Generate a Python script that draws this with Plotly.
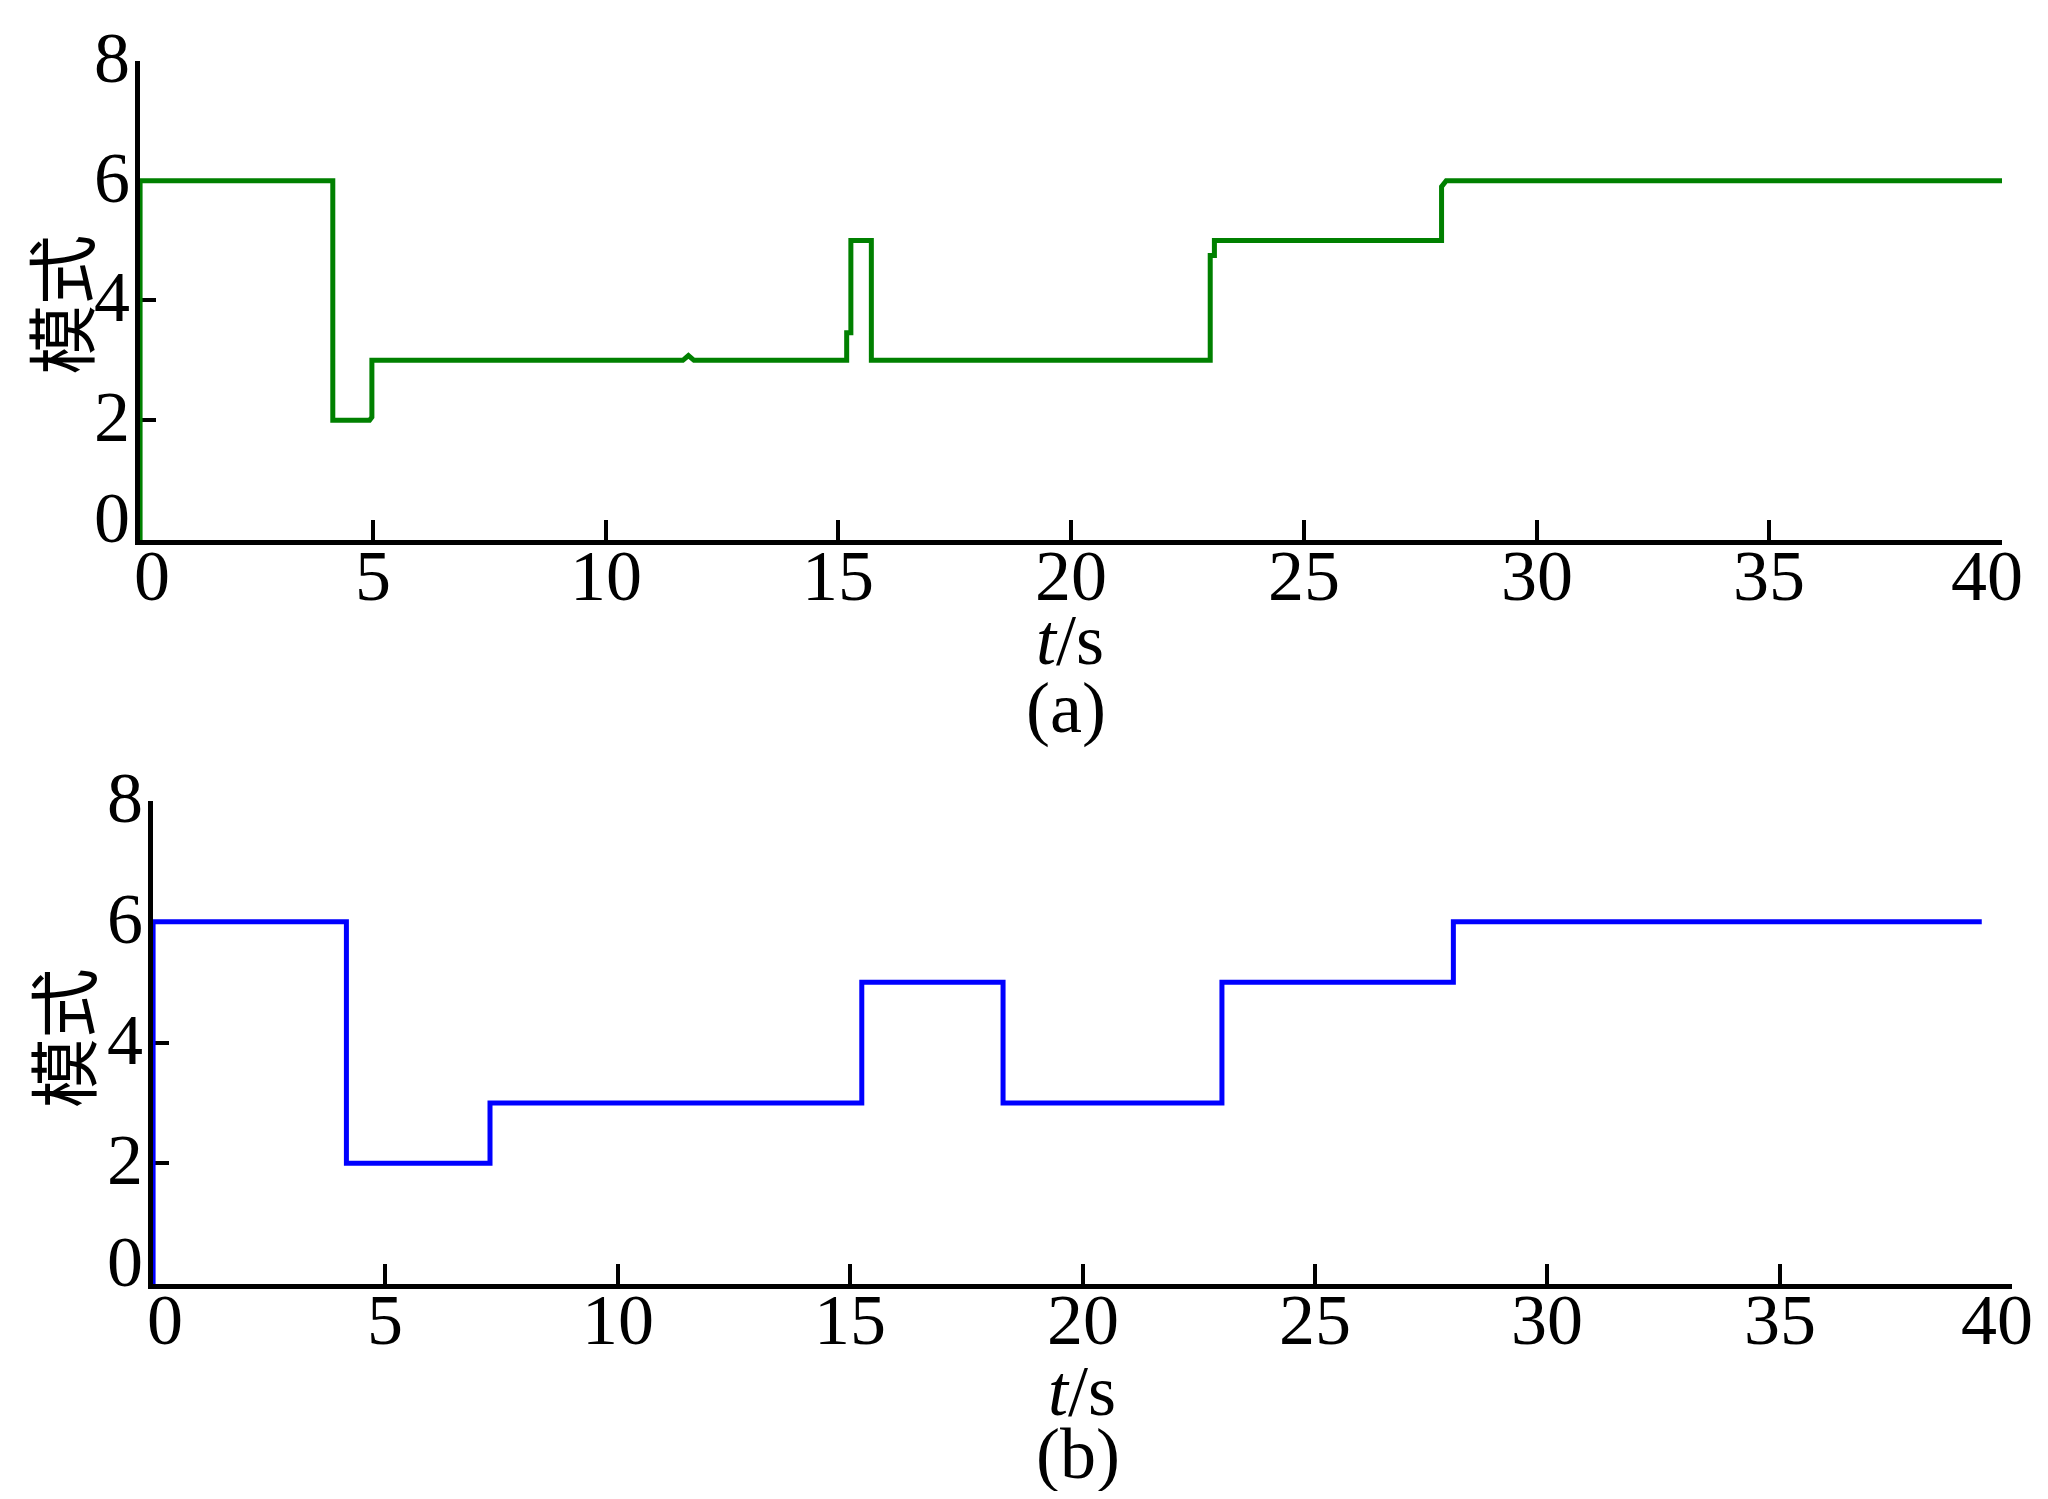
import plotly.graph_objects as go

# (a) mode switching, measured (t in s, mode index)
t_a = [0, 0, 4.14, 4.14, 4.93, 4.98, 4.98, 11.66, 11.78, 11.9, 15.18, 15.18, 15.27, 15.27,
       15.71, 15.71, 22.99, 22.99, 23.08, 23.08, 27.96, 27.96, 28.06, 40.0]
mode_a = [0, 6, 6, 2, 2, 2.05, 3, 3, 3.08, 3, 3, 3.46, 3.46, 5,
          5, 3, 3, 4.75, 4.75, 5, 5, 5.9, 6, 6]

# (b) ideal mode sequence (step after each switch time)
t_b = [0, 0, 4.16, 7.25, 15.25, 18.29, 23.0, 27.98, 39.35]
mode_b = [0, 6, 2, 3, 5, 3, 5, 6, 6]

x_ticks = [0, 5, 10, 15, 20, 25, 30, 35, 40]
y_ticks = [0, 2, 4, 6, 8]
y_title = "模式"
x_title = "<i>t</i>/s"
panel_labels = ["(a)", "(b)"]

serif = "Liberation Serif, Times New Roman, serif"
cjk = "Noto Sans CJK SC"
W, H = 2032, 1483  # page body keeps an 8px margin

fig = go.Figure()
fig.add_trace(go.Scatter(x=t_a, y=mode_a, mode="lines", line=dict(color="#008000", width=5),
                         xaxis="x", yaxis="y", showlegend=False))
fig.add_trace(go.Scatter(x=t_b, y=mode_b, mode="lines", line=dict(color="#0000ff", width=5, shape="hv"),
                         xaxis="x2", yaxis="y2", showlegend=False))

xcommon = dict(range=[0, 40], tickvals=x_ticks, ticks="inside", ticklen=20, tickwidth=4,
               tickcolor="black", showline=True, linecolor="black", linewidth=5,
               showgrid=False, zeroline=False, layer="below traces", showticklabels=False)
ycommon = dict(range=[0, 8], tickvals=y_ticks, ticks="inside", ticklen=16, tickwidth=4,
               tickcolor="black", showline=True, linecolor="black", linewidth=5,
               showgrid=False, zeroline=False, layer="below traces", showticklabels=False)

fig.update_layout(
    width=W, height=H,
    paper_bgcolor="white", plot_bgcolor="white",
    margin=dict(l=0, r=0, t=0, b=0, autoexpand=False),
    xaxis=dict(domain=[0.0650, 0.9813], anchor="y", **xcommon),
    yaxis=dict(domain=[0.6413, 0.9643], anchor="x", **ycommon),
    xaxis2=dict(domain=[0.0714, 0.9862], anchor="y2", **xcommon),
    yaxis2=dict(domain=[0.1395, 0.4653], anchor="x2", **ycommon),
)

tickfont = dict(family=serif, size=72, color="black")

# tick labels, placed on the axes' own scales
for xr, yr in [("x", "y"), ("x2", "y2")]:
    for i, v in enumerate(x_ticks):
        dx = 12 if i == 0 else (-15 if i == len(x_ticks) - 1 else 0)
        fig.add_annotation(text=str(v), xref=xr, yref=yr, x=v, y=0, xanchor="center",
                           yanchor="middle", yshift=-36, xshift=dx, showarrow=False, font=tickfont)
    for v in y_ticks:
        fig.add_annotation(text=str(v), xref=xr, yref=yr, x=0, y=v, xanchor="right",
                           yanchor="middle", xshift=-8, yshift=(22 if v == 0 else 3),
                           showarrow=False, font=tickfont)

# axis titles and panel labels
for xc, ty, py, yx, yy, lab in [(0.5226, 0.5735, 0.5280, 0.0245, 0.7997, panel_labels[0]),
                                (0.5285, 0.0672, 0.0250, 0.0262, 0.3055, panel_labels[1])]:
    fig.add_annotation(text=x_title, xref="paper", yref="paper", x=xc, y=ty,
                       xanchor="center", yanchor="middle", showarrow=False, font=tickfont)
    fig.add_annotation(text=lab, xref="paper", yref="paper", x=xc - 0.002, y=py,
                       xanchor="center", yanchor="middle", showarrow=False, font=tickfont)
    fig.add_annotation(text=y_title, xref="paper", yref="paper", x=yx, y=yy,
                       xanchor="center", yanchor="middle", showarrow=False, textangle=-90,
                       font=dict(family=cjk, size=70, color="black"))

fig.write_html("out.html")
